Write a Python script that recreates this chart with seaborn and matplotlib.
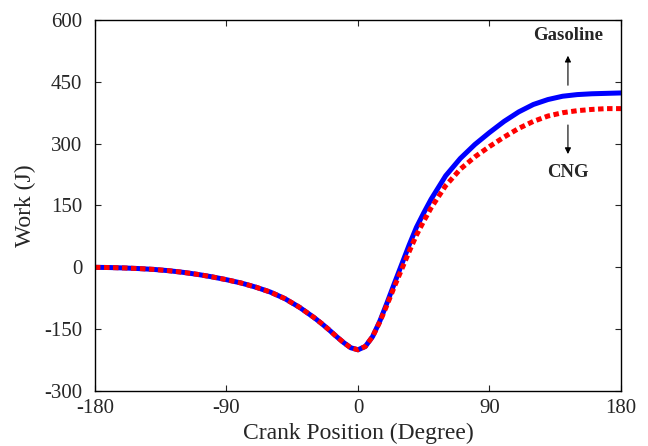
import numpy as np
import pandas as pd
import matplotlib
matplotlib.use("Agg")
import matplotlib.pyplot as plt
import seaborn as sns

# Crank angle (degrees) and cumulative work (J) for each fuel
crank_deg = [-180, -170, -160, -150, -140, -130, -120, -110, -100, -90, -80,
             -70, -60, -50, -40, -30, -25, -20, -15, -10, -5, 0, 5, 10, 15,
             20, 25, 30, 35, 40, 45, 50, 60, 70, 80, 90, 100, 110, 120, 130,
             140, 150, 160, 170, 180]

work_gasoline = [0, -0.5, -1.5, -3, -5, -8, -12, -17, -23, -30, -38,
                 -48, -60, -76, -97, -122, -136, -151, -167, -182, -195, -200, -192, -168, -130,
                 -85, -38, 8, 54, 97, 132, 165, 222, 264, 298, 327, 354, 377, 395, 407,
                 415, 419, 421, 422, 423]

work_cng = [0, -0.5, -1.5, -3, -5, -8, -12, -17, -23, -30, -38,
            -48, -60, -76, -97, -122, -136, -151, -167, -182, -195, -200, -192, -168, -132,
            -90, -46, -4, 38, 78, 112, 144, 198, 238, 268, 293, 316, 337, 354, 367,
            375, 380, 383, 385, 385]

x_ticks = [-180, -90, 0, 90, 180]
y_ticks = [-300, -150, 0, 150, 300, 450, 600]

sns.set_theme(style="ticks")
plt.rcParams["font.family"] = ["Liberation Serif", "DejaVu Serif"]
plt.rcParams["axes.unicode_minus"] = False
plt.rcParams["xtick.direction"] = "in"
plt.rcParams["ytick.direction"] = "in"

df = pd.DataFrame({
    "Crank": crank_deg * 2,
    "Work": work_gasoline + work_cng,
    "Fuel": ["Gasoline"] * len(crank_deg) + ["CNG"] * len(crank_deg),
})

fig = plt.figure(figsize=(6.48, 4.46), dpi=100)
ax = fig.add_axes([0.1466, 0.1233, 0.8117, 0.8319])

sns.lineplot(data=df[df.Fuel == "Gasoline"], x="Crank", y="Work", ax=ax,
             color="#0000ff", linewidth=3.6, legend=False, sort=False)
sns.lineplot(data=df[df.Fuel == "CNG"], x="Crank", y="Work", ax=ax,
             color="#ff0000", linewidth=3.6, legend=False, sort=False,
             linestyle=(0, (1.1, 0.7)))

ax.set_xlim(-180, 180)
ax.set_ylim(-300, 600)
ax.set_xticks(x_ticks)
ax.set_yticks(y_ticks)
ax.tick_params(axis="both", which="both", labelsize=15, length=4, width=0.8,
               top=True, right=True, direction="in")
ax.tick_params(axis="x", pad=6)
ax.tick_params(axis="y", pad=9)
for s in ax.spines.values():
    s.set_linewidth(1.0)
    s.set_color("black")

ax.set_xlabel("Crank Position (Degree)", fontsize=17, labelpad=3)
ax.set_ylabel("Work (J)", fontsize=17, labelpad=6)

# Labels with arrows pointing away from each curve
ax.annotate("", xy=(143.7, 520), xytext=(143.7, 435),
            arrowprops=dict(arrowstyle="-|>", color="black", lw=0.8,
                            mutation_scale=9))
ax.text(143.7, 563, "Gasoline", ha="center", va="center",
        fontsize=13.5, fontweight="bold")
ax.annotate("", xy=(143.7, 268), xytext=(143.7, 352),
            arrowprops=dict(arrowstyle="-|>", color="black", lw=0.8,
                            mutation_scale=9))
ax.text(143.7, 229, "CNG", ha="center", va="center",
        fontsize=13.5, fontweight="bold")

fig.savefig("out.png", dpi=100)
